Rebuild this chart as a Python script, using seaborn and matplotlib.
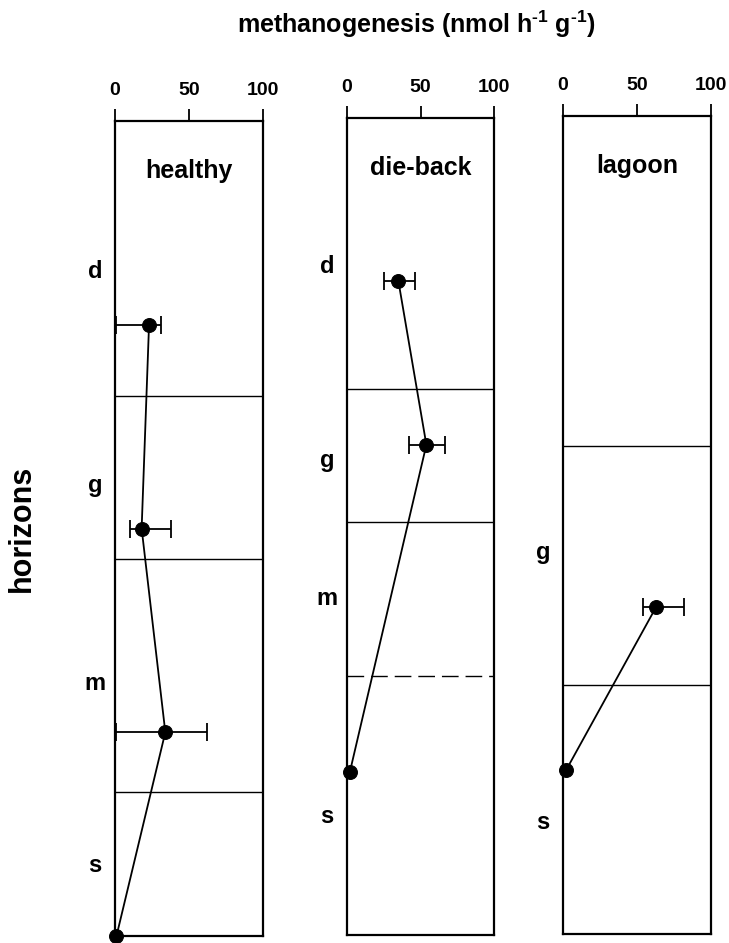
import numpy as np
import matplotlib
matplotlib.use("Agg")
import matplotlib.pyplot as plt
import seaborn as sns

# ---- data -----------------------------------------------------------------
sites = ["healthy", "die-back", "lagoon"]

# sampling depth (relative core depth, 0 = surface, 100 = bottom of core)
healthy_depth = [25, 50, 75, 100]
healthy_rate = [23, 18, 34, 1]
healthy_low = [1, 10, 1, 1]
healthy_high = [31, 38, 62, 1]

dieback_depth = [20, 40, 80]
dieback_rate = [35, 54, 2]
dieback_low = [25, 42, 2]
dieback_high = [46, 67, 2]

lagoon_depth = [60, 80]
lagoon_rate = [63, 2]
lagoon_low = [54, 2]
lagoon_high = [82, 2]

# horizon names and the depths of the boundaries between them
healthy_horizons = ["d", "g", "m", "s"]
healthy_bounds = [33.7, 53.8, 82.3]
dieback_horizons = ["d", "g", "m", "s"]
dieback_bounds = [33.2, 49.4, 68.3]
lagoon_horizons = ["g", "s"]
lagoon_bounds = [40.4, 69.6]

x_ticks = [0, 50, 100]

# ---- style ----------------------------------------------------------------
sns.set_theme(style="white")
plt.rcParams["font.family"] = ["Liberation Sans", "DejaVu Sans"]
plt.rcParams["font.weight"] = "bold"
plt.rcParams["mathtext.default"] = "regular"
plt.rcParams["text.color"] = "black"
plt.rcParams["axes.labelcolor"] = "black"
plt.rcParams["xtick.color"] = "black"

W, H = 729, 943
fig = plt.figure(figsize=(W / 100, H / 100), dpi=100)
fig.patch.set_facecolor("white")

# panel boxes in pixels: left, top, right, bottom
boxes = [(115, 121, 263, 936), (347, 118, 494, 935), (563, 116, 711, 934)]

panels = [
    dict(depth=healthy_depth, rate=healthy_rate, lo=healthy_low, hi=healthy_high,
         names=healthy_horizons, bounds=healthy_bounds, dashed=[],
         label_y=[18.5, 44.7, 69.0, 91.4]),
    dict(depth=dieback_depth, rate=dieback_rate, lo=dieback_low, hi=dieback_high,
         names=dieback_horizons, bounds=dieback_bounds, dashed=[2],
         label_y=[18.2, 41.9, 58.8, 85.5]),
    dict(depth=lagoon_depth, rate=lagoon_rate, lo=lagoon_low, hi=lagoon_high,
         names=lagoon_horizons, bounds=lagoon_bounds, dashed=[],
         label_y=[53.4, 86.4]),
]

for site, box, p in zip(sites, boxes, panels):
    l, t, r, b = box
    ax = fig.add_axes([l / W, 1 - b / H, (r - l) / W, (b - t) / H])
    ax.set_facecolor("white")
    ax.set_xlim(0, 100)
    ax.set_ylim(100, 0)

    # horizon boundaries
    for i, yb in enumerate(p["bounds"]):
        ls = (0, (12, 5)) if i in p["dashed"] else "-"
        ax.axhline(yb, color="black", lw=1.0, ls=ls, zorder=1)

    rate = np.asarray(p["rate"], float)
    lo = np.asarray(p["lo"], float)
    hi = np.asarray(p["hi"], float)
    depth = np.asarray(p["depth"], float)

    # profile line with markers
    sns.lineplot(x=rate, y=depth, orient="y", sort=False, estimator=None,
                 color="black", linewidth=1.3, marker="o", markersize=10,
                 markeredgecolor="black", ax=ax, clip_on=False, zorder=4)

    # error bars (only where a spread exists)
    has_err = hi > lo
    if has_err.any():
        ax.errorbar(rate[has_err], depth[has_err],
                    xerr=[rate[has_err] - lo[has_err], hi[has_err] - rate[has_err]],
                    fmt="none", ecolor="black", elinewidth=1.3,
                    capsize=6.3, capthick=1.3, zorder=3)

    # axes styling
    ax.xaxis.tick_top()
    ax.set_xticks(x_ticks)
    ax.set_xticklabels([str(v) for v in x_ticks])
    ax.tick_params(axis="x", direction="out", length=9, width=1.3, pad=7,
                   labelsize=14, colors="black", top=True, bottom=False)
    ax.set_yticks([])
    ax.set_xlabel("")
    ax.set_ylabel("")
    for sp in ax.spines.values():
        sp.set_visible(True)
        sp.set_color("black")
        sp.set_linewidth(1.6)

    # site name inside the panel
    ax.text(0.5, 0.93, site, transform=ax.transAxes, ha="center",
            va="baseline", fontsize=18, fontweight="bold", color="black")

    # horizon letters to the left of the panel
    for name, yl in zip(p["names"], p["label_y"]):
        ax.annotate(name, xy=(0, yl), xycoords=("axes fraction", "data"),
                    xytext=(-20, 0), textcoords="offset pixels",
                    ha="center", va="center", fontsize=17,
                    fontweight="bold", color="black", annotation_clip=False)

fig.text(416 / W, 1 - 33 / H, "methanogenesis (nmol h$^{\u20101}$ g$^{\u20101}$)",
         ha="center", va="baseline", fontsize=18, fontweight="bold",
         color="black")
fig.text(22 / W, 1 - 528 / H, "horizons", rotation=90, ha="center",
         va="center", fontsize=22, fontweight="bold", color="black")

fig.savefig("out.png", dpi=100, facecolor="white")
